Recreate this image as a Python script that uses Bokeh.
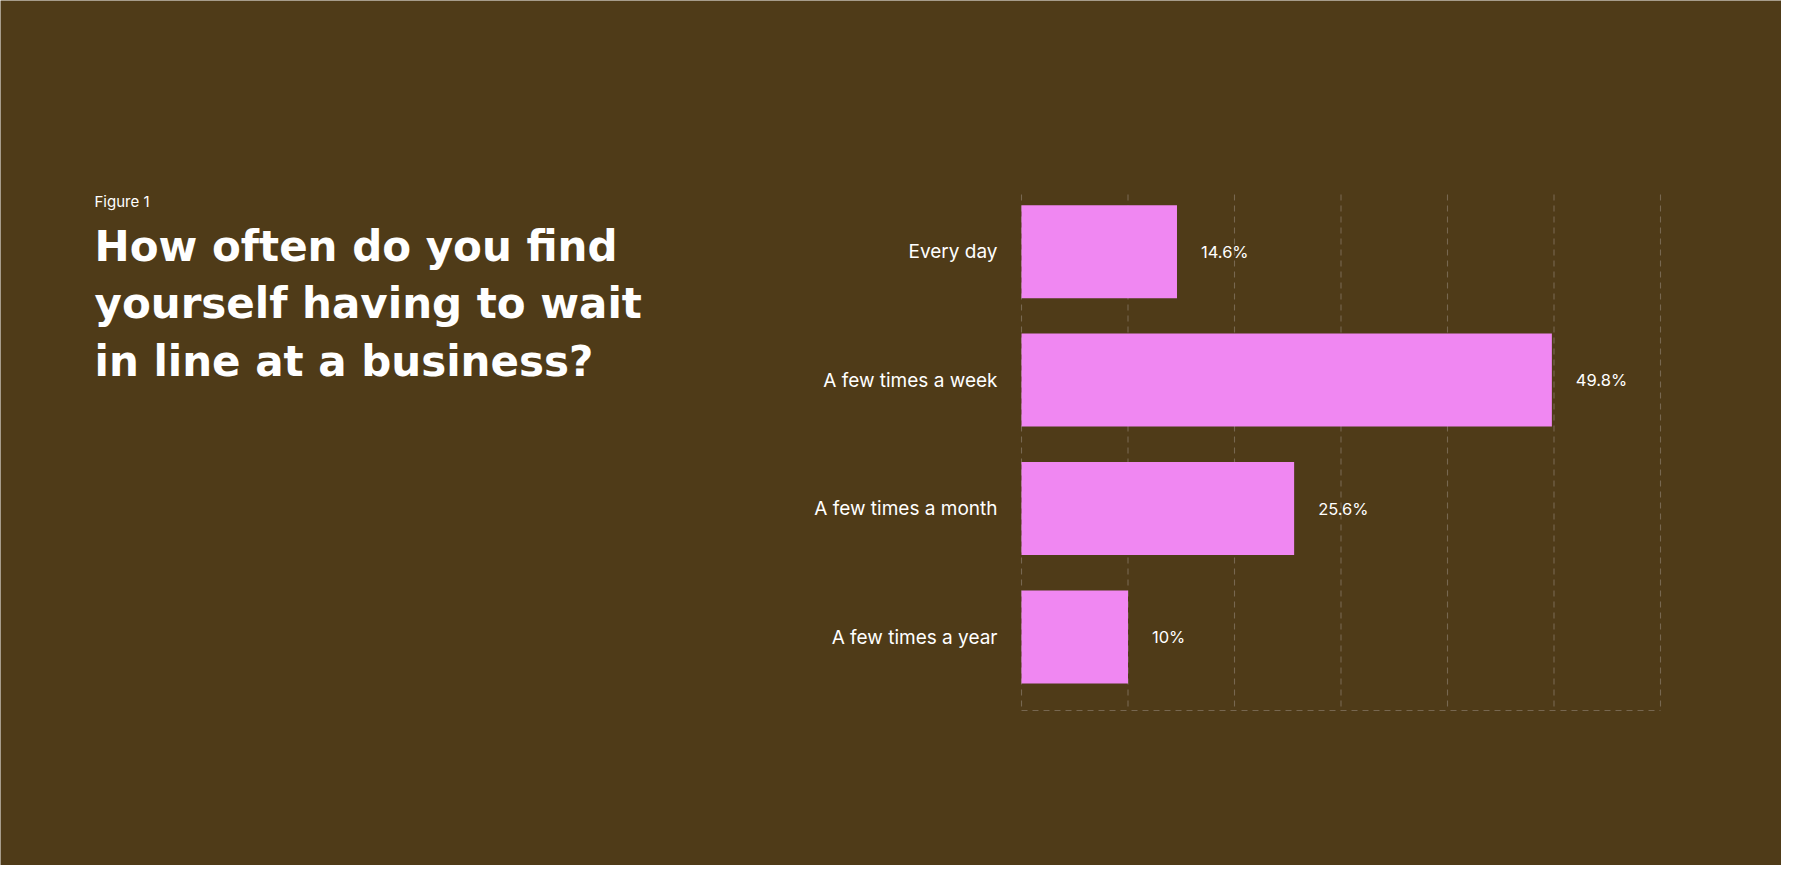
from bokeh.plotting import figure
from bokeh.models import Range1d, ColumnDataSource
from bokeh.core.properties import value
from bokeh.embed import file_html
from bokeh.resources import INLINE

# ---- data ----
categories = ["Every day", "A few times a week", "A few times a month", "A few times a year"]
values = [14.6, 49.8, 25.6, 10.0]
value_labels = ["14.6%", "49.8%", "25.6%", "10%"]
x_ticks = [0, 10, 20, 30, 40, 50, 60]
figure_label = "Figure 1"
title_lines = ["How often do you find", "yourself having to wait", "in line at a business?"]

# ---- style / layout ----
BG = "#4F3B18"
BAR = "#F087F2"
GRID = "#776750"
TXT = "#FFFFFF"
W, H = 1781, 865
FONT = "Inter"
TITLE_FONT = "DejaVu Sans"
# plotting area in pixels
FRAME_TOP, FRAME_BOTTOM = 194, 710
FRAME_LEFT, FRAME_RIGHT = 1021, 1660
X_MAX = 60
Y_TOP_PAD, Y_BOTTOM_PAD = 0.445, 0.572   # band units above first / below last bar

n = len(categories)
idx = list(range(n))

# value scale spanning the whole canvas so the chart occupies its plotting area
kx = X_MAX / (FRAME_RIGHT - FRAME_LEFT)
x_range = Range1d(-FRAME_LEFT * kx, X_MAX + (W - FRAME_RIGHT) * kx)
y_lo, y_hi = -Y_TOP_PAD, (n - 1) + Y_BOTTOM_PAD
ky = (y_hi - y_lo) / (FRAME_BOTTOM - FRAME_TOP)
y_range = Range1d(y_hi + (H - FRAME_BOTTOM) * ky, y_lo - FRAME_TOP * ky)

p = figure(width=W, height=H, output_backend="svg", toolbar_location=None,
           x_range=x_range, y_range=y_range,
           background_fill_color=BG, border_fill_color=BG,
           outline_line_color=None, min_border=0,
           x_axis_location=None, y_axis_location=None)
p.grid.visible = False
# pixel coordinate system for layout elements
p.extra_x_ranges = {"px": Range1d(0, W)}
p.extra_y_ranges = {"px": Range1d(H, 0)}

# dashed grid: vertical lines at ticks + baseline at bottom
gsrc = ColumnDataSource(dict(x=x_ticks))
p.segment(x0="x", x1="x", y0=FRAME_TOP, y1=FRAME_BOTTOM, source=gsrc,
          y_range_name="px", line_color=GRID, line_width=1.1, line_dash="6 5")
p.segment(x0=[x_ticks[0]], x1=[x_ticks[-1]], y0=[FRAME_BOTTOM], y1=[FRAME_BOTTOM],
          y_range_name="px", line_color=GRID, line_width=1.1, line_dash="6 5")

# bars
src = ColumnDataSource(dict(y=idx, v=values, lab=value_labels, cat=categories,
                            zero=[0] * n))
p.hbar(y="y", right="v", left=0, height=0.724, source=src,
       fill_color=BAR, line_color=None)

# value labels
p.text(x="v", y="y", text="lab", source=src, x_offset=24,
       text_baseline="middle", text_align="left",
       text_color=TXT, text_font=value(FONT), text_font_size="16.5px")

# category labels
p.text(x="zero", y="y", text="cat", source=src, x_offset=-24,
       text_baseline="middle", text_align="right",
       text_color=TXT, text_font=value(FONT), text_font_size="19px")

# title block
p.text(x=[94], y=[200.5], text=[figure_label], x_range_name="px", y_range_name="px",
       text_color=TXT, text_font=value(FONT), text_font_size="15px",
       text_baseline="alphabetic")
tsrc = ColumnDataSource(dict(x=[94] * len(title_lines),
                             y=[245.7 + 57.5 * i for i in range(len(title_lines))],
                             txt=title_lines))
p.text(x="x", y="y", text="txt", source=tsrc, x_range_name="px", y_range_name="px",
       text_color=TXT, text_font=value(TITLE_FONT), text_font_style="bold",
       text_font_size="42px", text_baseline="alphabetic")

open("out.html", "w").write(file_html(p, INLINE))
